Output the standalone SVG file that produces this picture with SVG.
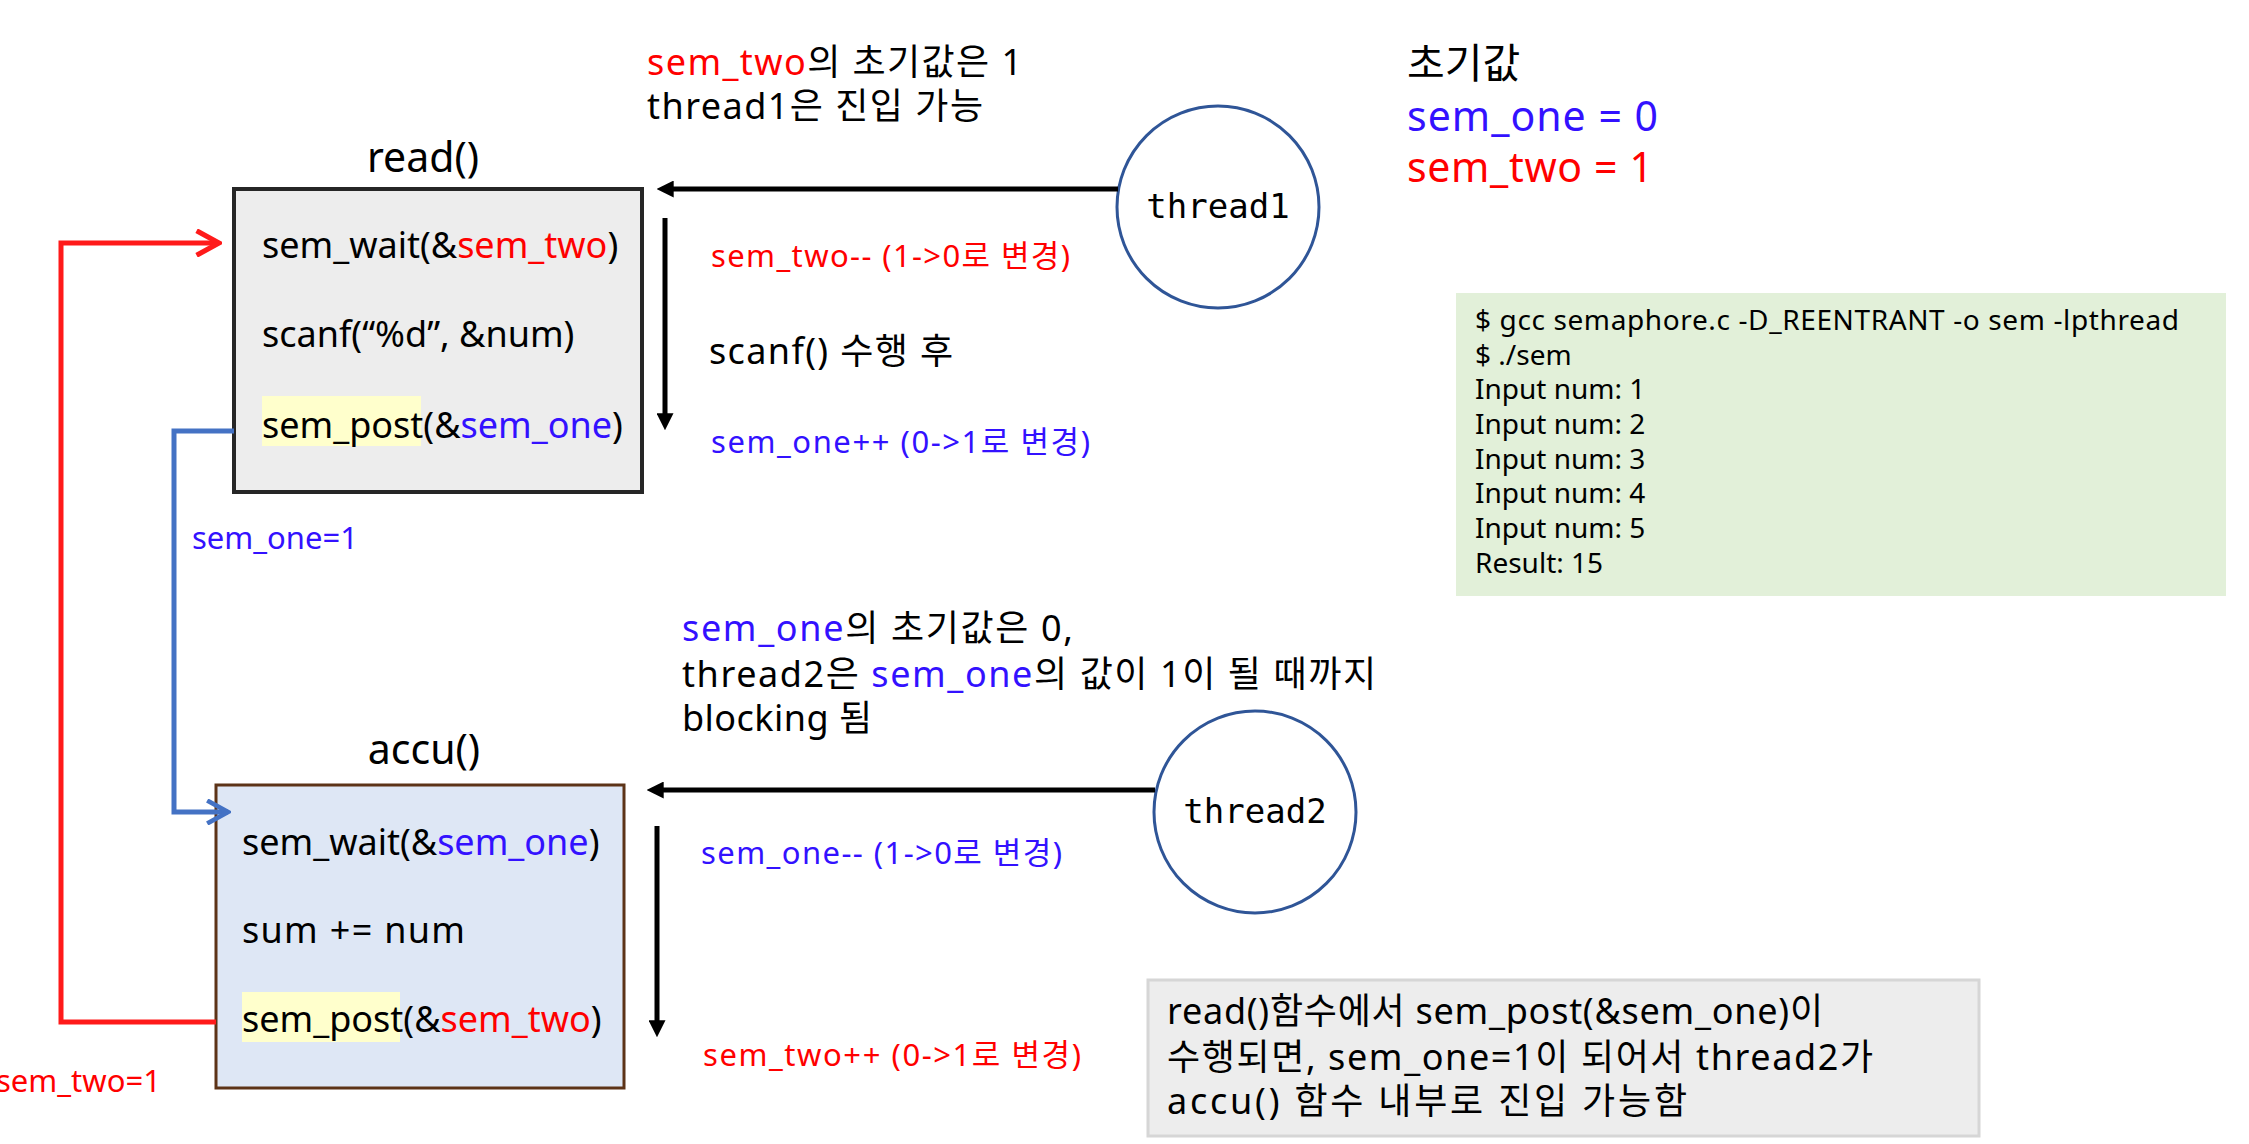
<svg xmlns="http://www.w3.org/2000/svg" width="2249" height="1144" viewBox="0 0 2249 1144">
<style>
text{font-family:"Noto Sans","Noto Sans CJK KR",sans-serif;fill:#000}
.m{font-size:36px}
.t{font-size:41px}
.s{font-size:31px}
.g{font-size:28px}
.b{font-size:41px}
.mono{font-family:"DejaVu Sans Mono",monospace;font-size:34px}
.red{fill:#FF0000}
.blue{fill:#3311FF}
.hl{fill:#FFFFCC}
.circ{fill:#fff;stroke:#2F5597;stroke-width:3}
.blk{stroke:#000;stroke-width:5;fill:none}
</style>
<defs>
<marker id="ah" viewBox="0 0 10 10" refX="1" refY="5" markerUnits="userSpaceOnUse" markerWidth="17" markerHeight="17" orient="auto"><path d="M0,0 L10,5 L0,10 z" fill="#000"/></marker>
<marker id="cr" viewBox="0 0 10 10" refX="9" refY="5" markerUnits="userSpaceOnUse" markerWidth="28" markerHeight="28" orient="auto"><path d="M1,0.6 L9,5 L1,9.4" fill="none" stroke="#FF1A1A" stroke-width="1.8"/></marker>
<marker id="cb" viewBox="0 0 10 10" refX="9" refY="5" markerUnits="userSpaceOnUse" markerWidth="26" markerHeight="26" orient="auto"><path d="M1,0.6 L9,5 L1,9.4" fill="none" stroke="#4472C4" stroke-width="1.8"/></marker>
</defs>

<g id="note-top">
<text class="m" x="647" y="75" textLength="375" lengthAdjust="spacing"><tspan class="red">sem_two</tspan>의 초기값은 1</text>
<text class="m" x="647" y="119" textLength="336" lengthAdjust="spacing">thread1은 진입 가능</text>
</g>

<g id="init">
<text class="b" x="1407" y="78" font-size="42">초기값</text>
<text class="b blue" x="1407" y="131" textLength="251" lengthAdjust="spacing">sem_one = 0</text>
<text class="b red" x="1407" y="182" textLength="246" lengthAdjust="spacing">sem_two = 1</text>
</g>

<g id="read">
<text class="t" x="423" y="172" text-anchor="middle">read()</text>
<rect x="234" y="189" width="408" height="303" fill="#EDEDED" stroke="#262626" stroke-width="4"/>
<rect class="hl" x="262" y="396" width="159" height="50"/>
<text class="m" x="262" y="258">sem_wait(&amp;<tspan class="red">sem_two</tspan>)</text>
<text class="m" x="262" y="347">scanf(“%d”, &amp;num)</text>
<text class="m" x="262" y="438">sem_post(&amp;<tspan class="blue">sem_one</tspan>)</text>
</g>

<g id="thread1">
<circle class="circ" cx="1218" cy="207" r="101"/>
<text class="mono" x="1218" y="218" text-anchor="middle">thread1</text>
</g>

<g id="accu">
<text class="t" x="424" y="764" text-anchor="middle">accu()</text>
<rect x="216" y="785" width="408" height="303" fill="#DEE7F5" stroke="#5C3317" stroke-width="3"/>
<rect class="hl" x="242" y="992" width="158" height="50"/>
<text class="m" x="242" y="855">sem_wait(&amp;<tspan class="blue">sem_one</tspan>)</text>
<text class="m" x="242" y="943" textLength="223" lengthAdjust="spacing">sum += num</text>
<text class="m" x="242" y="1032">sem_post(&amp;<tspan class="red">sem_two</tspan>)</text>
</g>

<g id="thread2">
<circle class="circ" cx="1255" cy="812" r="101"/>
<text class="mono" x="1255" y="823" text-anchor="middle">thread2</text>
</g>

<g id="note-mid">
<text class="m" x="682" y="641" textLength="391" lengthAdjust="spacing"><tspan class="blue">sem_one</tspan>의 초기값은 0,</text>
<text class="m" x="682" y="687" textLength="694" lengthAdjust="spacing">thread2은 <tspan class="blue">sem_one</tspan>의 값이 1이 될 때까지</text>
<text class="m" x="682" y="731" textLength="190" lengthAdjust="spacing">blocking 됨</text>
</g>

<g id="output">
<rect x="1456" y="293" width="770" height="303" fill="#E2F0D9"/>
<text class="g" x="1475" y="330" textLength="704" lengthAdjust="spacing">$ gcc semaphore.c -D_REENTRANT -o sem -lpthread</text>
<text class="g" x="1475" y="365">$ ./sem</text>
<text class="g" x="1475" y="399">Input num: 1</text>
<text class="g" x="1475" y="434">Input num: 2</text>
<text class="g" x="1475" y="469">Input num: 3</text>
<text class="g" x="1475" y="503">Input num: 4</text>
<text class="g" x="1475" y="538">Input num: 5</text>
<text class="g" x="1475" y="573">Result: 15</text>
</g>

<g id="note-bottom">
<rect x="1148" y="980" width="831" height="156" fill="#EDEDED" stroke="#D6D6D6" stroke-width="3"/>
<text class="m" x="1167" y="1024" textLength="656" lengthAdjust="spacing">read()함수에서 sem_post(&amp;sem_one)이</text>
<text class="m" x="1167" y="1070" textLength="706" lengthAdjust="spacing">수행되면, sem_one=1이 되어서 thread2가</text>
<text class="m" x="1167" y="1114" textLength="520" lengthAdjust="spacing">accu() 함수 내부로 진입 가능함</text>
</g>

<g id="connectors">
<line class="blk" x1="1118" y1="189" x2="672" y2="189" marker-end="url(#ah)"/>
<line class="blk" x1="665" y1="218" x2="665" y2="415" marker-end="url(#ah)"/>
<line class="blk" x1="1155" y1="790" x2="662" y2="790" marker-end="url(#ah)"/>
<line class="blk" x1="657" y1="826" x2="657" y2="1022" marker-end="url(#ah)"/>
<path d="M216,1022 H61 V243 H219" fill="none" stroke="#FF1A1A" stroke-width="5" marker-end="url(#cr)"/>
<path d="M234,431 H174 V812 H228" fill="none" stroke="#4472C4" stroke-width="5" marker-end="url(#cb)"/>
</g>

<g id="labels">
<text class="s red" x="711" y="267" textLength="359" lengthAdjust="spacing">sem_two-- (1-&gt;0로 변경)</text>
<text class="m" x="709" y="364" textLength="244" lengthAdjust="spacing">scanf() 수행 후</text>
<text class="s blue" x="711" y="453" textLength="379" lengthAdjust="spacing">sem_one++ (0-&gt;1로 변경)</text>
<text class="s blue" x="192" y="549">sem_one=1</text>
<text class="s blue" x="701" y="864" textLength="361" lengthAdjust="spacing">sem_one-- (1-&gt;0로 변경)</text>
<text class="s red" x="703" y="1066" textLength="378" lengthAdjust="spacing">sem_two++ (0-&gt;1로 변경)</text>
<text class="s red" x="-4" y="1092">sem_two=1</text>
</g>
</svg>
